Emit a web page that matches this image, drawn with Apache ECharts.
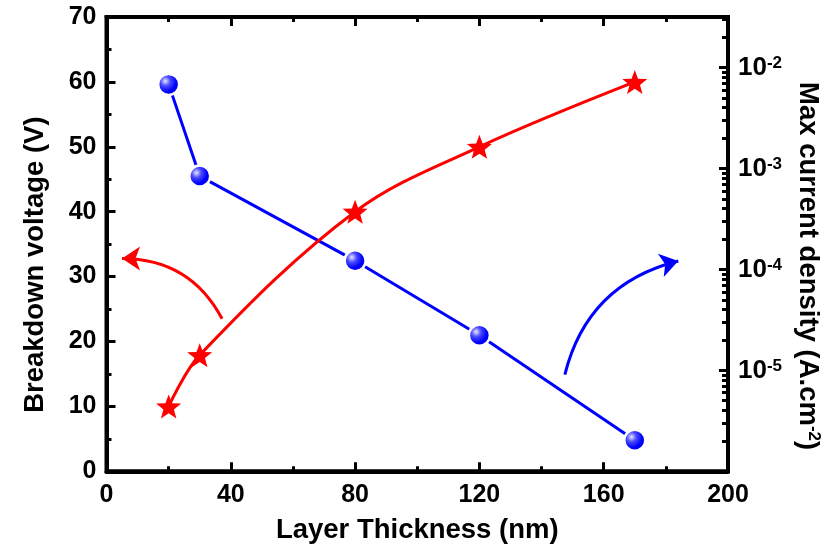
<!DOCTYPE html>
<html>
<head>
<meta charset="utf-8">
<script src="https://cdn.jsdelivr.net/npm/echarts@6/dist/echarts.min.js"></script>
<style>
html,body{margin:0;padding:0;background:#fff;}
#chart{width:836px;height:556px;}
</style>
</head>
<body>
<div id="chart"></div>
<script>
// ---- data ----
const thickness = [20, 30, 80, 120, 170];                 // nm
const breakdownVoltage = [10, 17.9, 40, 50, 60];          // V (left axis)
const currentDensity = [6.8e-3, 8.4e-4, 1.22e-4, 2.23e-5, 2.03e-6]; // A.cm^-2 (right axis, log)
const xTicks = [0, 40, 80, 120, 160, 200];
const leftTicks = [0, 10, 20, 30, 40, 50, 60, 70];
const rightDecadeExponents = [-5, -4, -3, -2];
const rightRange = [-6, -1.5]; // log10 range of right axis
// annotation arrows in (thickness, voltage) coordinates: [tail, head]
const redArrow = [[37.2, 23.5], [5.0, 32.8]];
const blueArrow = [[147.5, 14.9], [184.0, 32.4]];

const FONT = '"Liberation Sans", Arial, sans-serif';
const minorLogTicks = [];
for (let d = rightRange[0]; d <= -2; d++) {
  for (let k = 2; k <= 9; k++) {
    const v = Math.log10(k * Math.pow(10, d));
    if (v <= rightRange[1] + 1e-9) minorLogTicks.push(v);
  }
}
const starPath = 'path://M50 0 L62.34 33.01 L97.55 34.55 L69.97 56.49 L79.39 90.45 L50 71 L20.61 90.45 L30.03 56.49 L2.45 34.55 L37.66 33.01 Z';

const axisLineStyle = { color: '#000', width: 4 };
const tickStyle = { color: '#000', width: 3 };
const labelStyle = { fontSize: 25, fontWeight: 'bold', color: '#000', fontFamily: FONT };
const nameStyle = { fontSize: 27.5, fontWeight: 'bold', color: '#000', fontFamily: FONT };

const chart = echarts.init(document.getElementById('chart'), null, { renderer: 'canvas' });
chart.setOption({
  animation: false,
  backgroundColor: '#fff',
  grid: { left: 106.5, right: 108, top: 17, bottom: 84.7, containLabel: false,
          show: true, borderColor: '#000', borderWidth: 4, backgroundColor: 'transparent' },
  xAxis: [
    {
      type: 'value', position: 'bottom', min: xTicks[0], max: xTicks[xTicks.length - 1], interval: 40,
      axisLine: { show: true, onZero: false, lineStyle: axisLineStyle },
      axisTick: { show: true, inside: true, length: 9, lineStyle: tickStyle },
      minorTick: { show: true, splitNumber: 2, length: 5, lineStyle: tickStyle },
      splitLine: { show: false },
      axisLabel: Object.assign({ margin: 11 }, labelStyle),
      name: 'Layer Thickness (nm)', nameLocation: 'middle', nameGap: 45,
      nameTextStyle: nameStyle
    },
    {
      type: 'value', position: 'top', min: xTicks[0], max: xTicks[xTicks.length - 1], interval: 40,
      axisLine: { show: true, onZero: false, lineStyle: axisLineStyle },
      axisTick: { show: true, inside: true, length: 9, lineStyle: tickStyle },
      minorTick: { show: true, splitNumber: 2, length: 5, lineStyle: tickStyle },
      splitLine: { show: false },
      axisLabel: { show: false }
    }
  ],
  yAxis: [
    {
      type: 'value', position: 'left', min: leftTicks[0], max: leftTicks[leftTicks.length - 1], interval: 10,
      axisLine: { show: true, onZero: false, lineStyle: axisLineStyle },
      axisTick: { show: true, inside: true, length: 9, lineStyle: tickStyle },
      minorTick: { show: true, splitNumber: 2, length: 5, lineStyle: tickStyle },
      splitLine: { show: false },
      axisLabel: Object.assign({ margin: 10 }, labelStyle),
      name: 'Breakdown voltage (V)', nameLocation: 'middle', nameGap: 57,
      nameTextStyle: Object.assign({ padding: [0, 41, 0, 0] }, nameStyle)
    },
    {
      type: 'value', position: 'right', min: rightRange[0], max: rightRange[1],
      axisLine: { show: true, onZero: false, lineStyle: axisLineStyle },
      axisTick: { show: true, inside: true, length: 9, lineStyle: tickStyle, customValues: rightDecadeExponents },
      splitLine: { show: false },
      axisLabel: {
        margin: 10, customValues: rightDecadeExponents,
        fontSize: 26, fontWeight: 'bold', color: '#000', fontFamily: FONT,
        formatter: function (v) { return '{b|10}{s|' + Math.round(v) + '}'; },
        rich: {
          b: { fontSize: 26, fontWeight: 'bold', color: '#000', fontFamily: FONT },
          s: { fontSize: 17, fontWeight: 'bold', color: '#000', fontFamily: FONT, verticalAlign: 'top' }
        }
      },
      name: 'Max current density (A.cm{s|-2})', nameLocation: 'middle', nameGap: 66, nameRotate: -90,
      nameTextStyle: Object.assign({
        padding: [0, 0, 0, 44],
        rich: { s: { fontSize: 17, fontWeight: 'bold', color: '#000', fontFamily: FONT, verticalAlign: 'top' } }
      }, nameStyle)
    },
    {
      type: 'value', position: 'right', min: rightRange[0], max: rightRange[1],
      axisLine: { show: false, onZero: false },
      axisTick: { show: true, inside: true, length: 6, lineStyle: tickStyle, customValues: minorLogTicks },
      splitLine: { show: false },
      axisLabel: { show: false }
    }
  ],
  series: [
    {
      name: 'Current density', type: 'line', xAxisIndex: 0, yAxisIndex: 1,
      data: thickness.map((x, i) => [x, Math.log10(currentDensity[i])]),
      symbol: 'circle', symbolSize: 21,
      itemStyle: {
        color: { type: 'radial', x: 0.36, y: 0.36, r: 0.7,
          colorStops: [{ offset: 0, color: '#e8e8ff' }, { offset: 0.3, color: '#4a4aff' }, { offset: 0.65, color: '#0000ff' }, { offset: 1, color: '#0000d8' }] },
        borderColor: '#fff', borderWidth: 2.5
      },
      lineStyle: { color: '#0000ff', width: 3 },
      z: 3
    },
    {
      name: 'Breakdown voltage', type: 'line', xAxisIndex: 0, yAxisIndex: 0,
      data: thickness.map((x, i) => [x, breakdownVoltage[i]]),
      smooth: 0.35,
      symbol: starPath, symbolSize: [25, 24],
      itemStyle: { color: '#ff0000' },
      lineStyle: { color: '#ff0000', width: 3 },
      z: 4
    },
    {
      type: 'lines', coordinateSystem: 'cartesian2d', xAxisIndex: 0, yAxisIndex: 0,
      symbol: ['none', 'arrow'], symbolSize: 18,
      lineStyle: { width: 3, opacity: 1 },
      data: [
        { coords: redArrow, lineStyle: { color: '#ff0000', curveness: -0.3 } },
        { coords: blueArrow, lineStyle: { color: '#0000ff', curveness: 0.3 } }
      ],
      z: 5
    }
  ]
});
</script>
</body>
</html>
